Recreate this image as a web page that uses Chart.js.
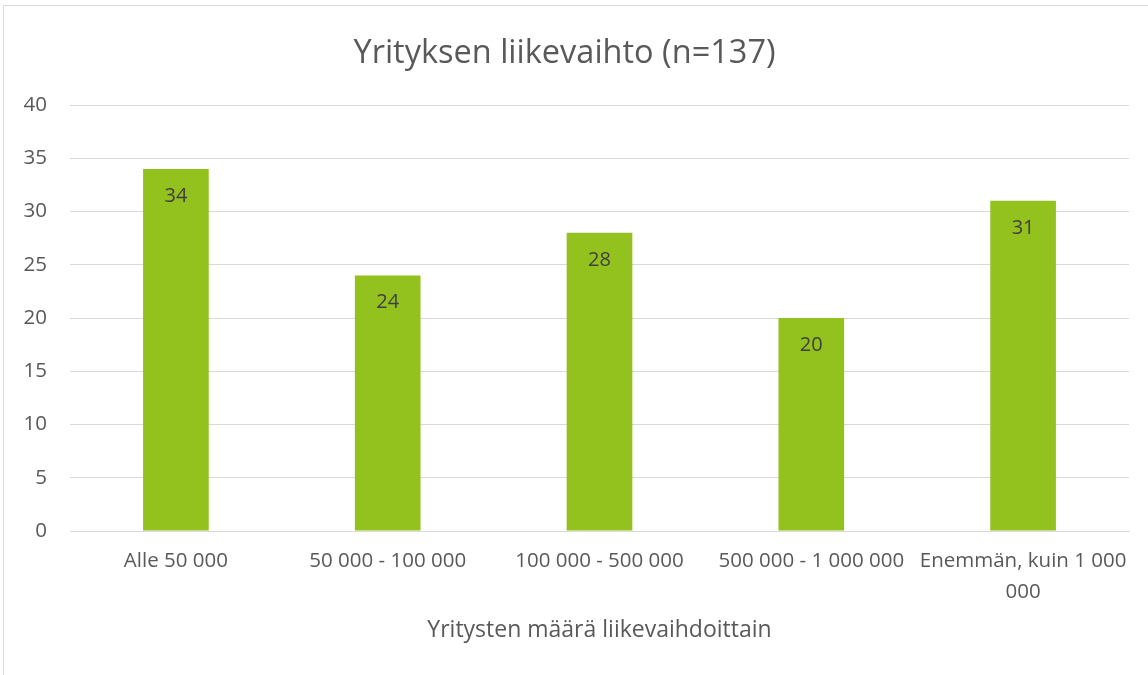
<!DOCTYPE html>
<html>
<head>
<meta charset="utf-8">
<script src="https://cdn.jsdelivr.net/npm/chart.js@4"></script>
<style>
  html, body { margin: 0; padding: 0; background: #fff; overflow: hidden; }
  #frame { position: absolute; left: 3px; top: 5px; width: 1200px; height: 720px; border: 1px solid #d9d9d9; }
  #chart { position: absolute; left: 0; top: 0; }
</style>
</head>
<body>
<div id="frame"></div>
<canvas id="chart" width="1148" height="675"></canvas>
<script>
const categories = ['Alle 50 000', '50 000 - 100 000', '100 000 - 500 000', '500 000 - 1 000 000', ['Enemmän, kuin 1 000', '000']];
const counts = [34, 24, 28, 20, 31];
const yTicks = [0, 5, 10, 15, 20, 25, 30, 35, 40];

const FONT = '"Open Sans", Lato, sans-serif';
const grey = '#595959';

// Value labels just inside the top of each bar
const barLabels = {
    id: 'barLabels',
    afterDatasetsDraw(chart) {
        const ctx = chart.ctx;
        const meta = chart.getDatasetMeta(0);
        ctx.save();
        ctx.font = '20px ' + FONT;
        ctx.fillStyle = '#404040';
        ctx.textAlign = 'center';
        ctx.textBaseline = 'middle';
        meta.data.forEach((bar, i) => {
            ctx.fillText(String(counts[i]), bar.x, bar.y + 27);
        });
        ctx.restore();
    }
};

new Chart(document.getElementById('chart').getContext('2d'), {
    type: 'bar',
    data: {
        labels: categories,
        datasets: [{
            data: counts,
            backgroundColor: '#93c11d',
            barPercentage: 0.31,
            categoryPercentage: 1
        }]
    },
    options: {
        responsive: false,
        animation: false,
        layout: { padding: { left: 0, right: 19, top: 0, bottom: 31 } },
        plugins: {
            legend: { display: false },
            tooltip: { enabled: false },
            title: {
                display: true,
                text: 'Yrityksen liikevaihto (n=137)',
                color: grey,
                font: { family: FONT, size: 32.5, weight: 'normal' },
                padding: { top: 34, bottom: 32 }
            }
        },
        scales: {
            x: {
                afterFit(axis) { axis.height = 113; },
                grid: { display: false, drawTicks: false },
                border: { color: '#d9d9d9', width: 1 },
                ticks: {
                    color: grey,
                    font: { family: FONT, size: 20.5, lineHeight: 1.5 },
                    padding: 15,
                    maxRotation: 0,
                    autoSkip: false
                },
                title: {
                    display: true,
                    text: 'Yritysten määrä liikevaihdoittain',
                    color: grey,
                    font: { family: FONT, size: 23 },
                    padding: { top: 0, bottom: 0 }
                }
            },
            y: {
                min: 0,
                max: 40,
                afterBuildTicks(axis) { axis.ticks = yTicks.map(v => ({ value: v })); },
                afterFit(axis) { axis.width = 70; },
                grid: { color: '#d9d9d9', drawTicks: false },
                border: { display: false },
                ticks: {
                    color: grey,
                    font: { family: FONT, size: 20.5 },
                    padding: 23
                }
            }
        }
    },
    plugins: [barLabels]
});
</script>
</body>
</html>
